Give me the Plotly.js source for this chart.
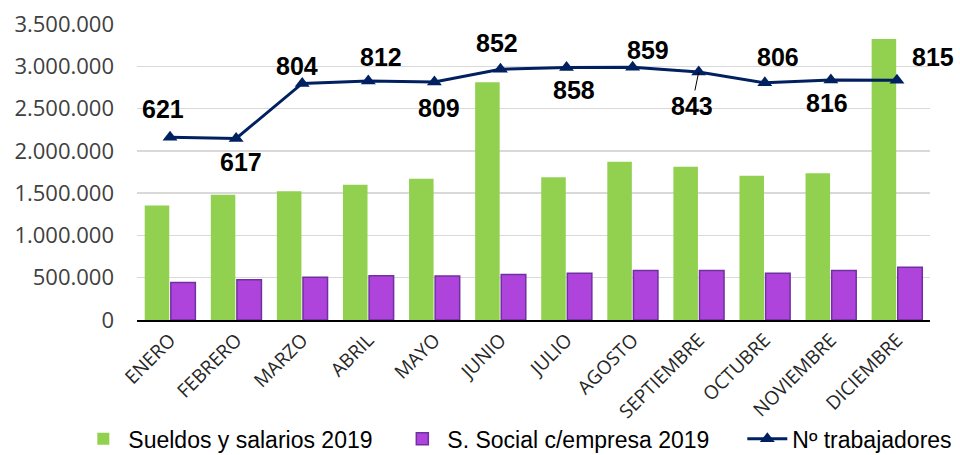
<!DOCTYPE html>
<html>
<head>
<meta charset="utf-8">
<script src="https://cdn.plot.ly/plotly-3.0.1.min.js"></script>
<style>
html,body{margin:0;padding:0;background:#fff;}
#chart{width:960px;height:455px;}
</style>
</head>
<body>
<div id="chart"></div>
<script>
var meses = ["ENERO","FEBRERO","MARZO","ABRIL","MAYO","JUNIO","JULIO","AGOSTO","SEPTIEMBRE","OCTUBRE","NOVIEMBRE","DICIEMBRE"];
var sueldos = [1355000,1480000,1523000,1598000,1669000,2811000,1688000,1870000,1811000,1705000,1735000,3324000];
var segSocial = [443000,475000,506000,522000,520000,538000,553000,585000,585000,553000,585000,624000];
var trabajadores = [621,617,804,812,809,852,858,859,843,806,816,815];
var yTickVals = [0,500000,1000000,1500000,2000000,2500000,3000000,3500000];
var yTickText = ["0","500.000","1.000.000","1.500.000","2.000.000","2.500.000","3.000.000","3.500.000"];

// label placement offsets (px) for the worker-count labels
var labelDx = [-7,5,-5,13,5,-3,7,15,-7,13,-4,36];
var labelDy = [28,-24,17,24,-26,26,-22,17,-34,26,-23,23];
var labelLeader = [false,false,false,false,false,false,false,false,true,false,false,false];

var traces = [
  {type:"bar", name:"Sueldos y salarios 2019", x:meses, y:sueldos, legendwidth:264,
   marker:{color:"#92D050", line:{width:0}}},
  {type:"bar", name:"S. Social c/empresa 2019", x:meses, y:segSocial, legendwidth:290,
   marker:{color:"#AE44DB", line:{color:"#7030A0", width:1.5}}},
  {type:"scatter", mode:"lines+markers", name:"Nº trabajadores", x:meses, y:trabajadores,
   yaxis:"y2", line:{color:"#002060", width:3},
   marker:{symbol:"triangle-up", size:13, color:"#002060"}}
];

var annotations = trabajadores.map(function(v,i){
  var a = {x:meses[i], y:v, xref:"x", yref:"y2", text:String(v),
    font:{family:"Liberation Sans, Arial, sans-serif", size:25, color:"#000", weight:"bold"}};
  if(labelLeader[i]){
    a.showarrow = true; a.arrowhead = 0; a.arrowwidth = 1; a.arrowcolor = "#000";
    a.ax = labelDx[i]; a.ay = -labelDy[i]; a.standoff = 0;
  } else {
    a.showarrow = false; a.xshift = labelDx[i]; a.yshift = labelDy[i];
  }
  return a;
});

var layout = {
  width:960, height:455,
  margin:{l:137, r:30, t:24, b:135, autoexpand:false},
  paper_bgcolor:"#fff", plot_bgcolor:"#fff",
  barmode:"group", bargap:0.21, bargroupgap:0.06,
  font:{family:"Open Sans, sans-serif", color:"#404040"},
  xaxis:{range:[-0.5, 11.5], tickangle:-45, tickfont:{family:"Open Sans, sans-serif", size:19, color:"#262626"},
    showline:true, linecolor:"#000", linewidth:1.5, showgrid:false, ticks:"", automargin:false,
    ticklabelstandoff:0},
  yaxis:{range:[0,3500000], tickvals:yTickVals, ticktext:yTickText,
    tickfont:{family:"Open Sans, sans-serif", size:22, color:"#404040"},
    showgrid:true, gridcolor:"#D9D9D9", gridwidth:1.5, zeroline:false, showline:false,
    ticks:"", ticklabelstandoff:22, automargin:false},
  yaxis2:{overlaying:"y", side:"right", range:[0,1006], visible:false, showgrid:false, automargin:false},
  showlegend:true,
  legend:{orientation:"h", x:-0.074, xanchor:"left", y:-0.474, yanchor:"bottom",
    font:{family:"Liberation Sans, Arial, sans-serif", size:23, color:"#000"},
    traceorder:"normal", itemwidth:40, bgcolor:"rgba(0,0,0,0)"},
  annotations:annotations
};

Plotly.newPlot("chart", traces, layout, {displayModeBar:false, staticPlot:true});
</script>
</body>
</html>
